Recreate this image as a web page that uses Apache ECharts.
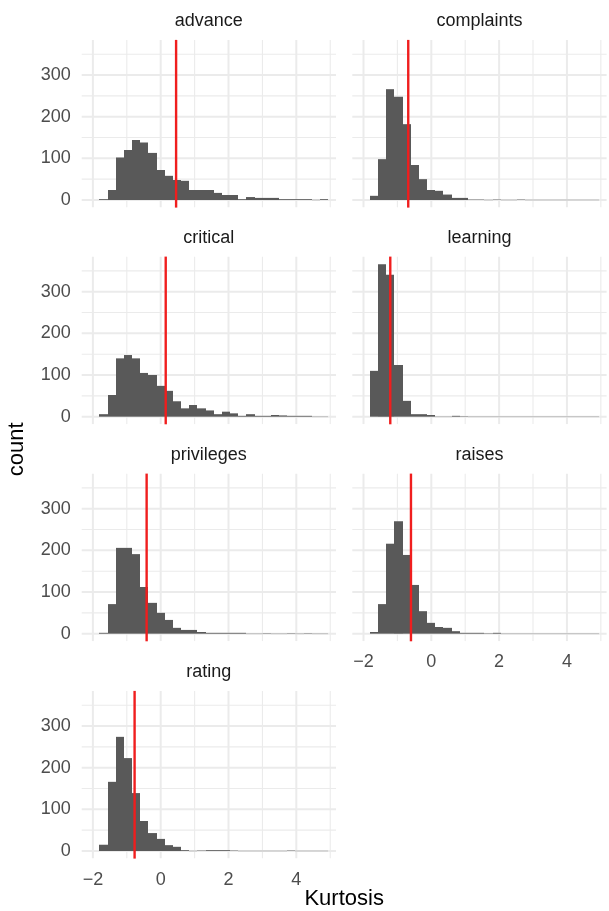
<!DOCTYPE html>
<html><head><meta charset="utf-8">
<script src="https://cdn.jsdelivr.net/npm/echarts@6/dist/echarts.min.js"></script>
<style>html,body{margin:0;padding:0;background:#fff}#c{width:609px;height:911px}</style>
</head><body><div id="c"></div>
<script>
// ---- data ----
const facetNames = ['advance', 'complaints', 'critical', 'learning', 'privileges', 'raises', 'rating'];
const binStart = -1.81;
const binWidth = 0.241;
const advanceCounts    = [2, 24, 102, 120, 144, 138, 113, 72, 58, 48, 46, 24, 24, 24, 17, 12, 12, 2, 7, 5, 5, 5, 2, 2, 2, 2, 0, 2];
const complaintsCounts = [10, 98, 266, 248, 182, 84, 50, 24, 22, 13, 5, 5, 1, 1, 0, 1, 0, 0, 1, 0, 0, 0, 0, 0, 0, 0, 0, 0];
const criticalCounts   = [6, 52, 140, 148, 140, 105, 100, 74, 62, 37, 20, 28, 20, 15, 6, 12, 8, 2, 6, 2, 2, 4, 3, 2, 2, 2, 0, 0];
const learningCounts   = [110, 366, 341, 124, 38, 6, 6, 4, 0, 0, 2, 1, 0, 0, 0, 0, 0, 0, 0, 0, 0, 0, 0, 0, 0, 0, 0, 0];
const privilegesCounts = [2, 71, 206, 206, 191, 112, 74, 50, 33, 14, 9, 9, 4, 2, 2, 2, 2, 2, 0, 0, 1, 0, 0, 1, 0, 1, 0, 0];
const raisesCounts     = [4, 71, 216, 270, 189, 117, 54, 26, 16, 14, 6, 2, 2, 2, 1, 2, 0, 0, 0, 0, 0, 0, 0, 0, 0, 0, 0, 0];
const ratingCounts     = [15, 166, 274, 223, 139, 72, 43, 29, 14, 10, 2, 0, 1, 2, 2, 2, 1, 0, 0, 0, 0, 0, 0, 1, 0, 0, 0, 0];
const kurtosisMeans    = [0.454, -0.68, 0.148, -1.21, -0.415, -0.60, -0.77];
const xTickLabels = [-2, 0, 2, 4];
const yTickLabels = [0, 100, 200, 300];
const xMinorBreaks = [-1, 1, 3, 5];
const yMinorBreaks = [50, 150, 250, 350];
const xAxisTitle = 'Kurtosis';
const yAxisTitle = 'count';

const allCounts = [advanceCounts, complaintsCounts, criticalCounts, learningCounts, privilegesCounts, raisesCounts, ratingCounts];

// ---- layout ----
const FONT = '"Liberation Sans", Arial, Helvetica, sans-serif';
const X_MIN = -2.33, X_MAX = 5.17, Y_MIN = -18.3, Y_MAX = 384.3;
const colLeft = [81.7, 352.3], panelW = 254.3;
const rowTop = [39.9, 256.6, 473.6, 690.9], panelH = 167.7;

const grids = [], xAxes = [], yAxes = [], series = [], graphics = [];

facetNames.forEach((name, i) => {
  const col = i % 2, row = Math.floor(i / 2);
  const showX = (name === 'raises' || name === 'rating');
  const showY = col === 0;
  grids.push({left: colLeft[col], top: rowTop[row], width: panelW, height: panelH, containLabel: false});
  xAxes.push({
    gridIndex: i, type: 'value', min: X_MIN, max: X_MAX,
    axisLine: {show: false}, axisTick: {show: false}, splitLine: {show: false},
    axisLabel: {show: showX, customValues: xTickLabels, color: '#4d4d4d', fontSize: 18, fontFamily: FONT, margin: 12,
      formatter: v => String(v).replace('-', '\u2212')}
  });
  yAxes.push({
    gridIndex: i, type: 'value', min: Y_MIN, max: Y_MAX,
    axisLine: {show: false}, axisTick: {show: false}, splitLine: {show: false},
    axisLabel: {show: showY, customValues: yTickLabels, color: '#4d4d4d', fontSize: 18, fontFamily: FONT, margin: 11}
  });
  // grid lines (minor first, then major)
  const gl = [];
  xMinorBreaks.forEach(v => gl.push([1, v]));
  yMinorBreaks.forEach(v => gl.push([3, v]));
  xTickLabels.forEach(v => gl.push([0, v]));
  yTickLabels.forEach(v => gl.push([2, v]));
  series.push({
    type: 'custom', xAxisIndex: i, yAxisIndex: i, silent: true, z: 1, clip: true,
    data: gl,
    renderItem: (params, api) => {
      const k = api.value(0), v = api.value(1);
      let p1, p2;
      if (k < 2) { p1 = api.coord([v, Y_MIN]); p2 = api.coord([v, Y_MAX]); }
      else { p1 = api.coord([X_MIN, v]); p2 = api.coord([X_MAX, v]); }
      return {type: 'line', shape: {x1: p1[0], y1: p1[1], x2: p2[0], y2: p2[1]},
        style: {stroke: '#ebebeb', lineWidth: (k % 2 === 0) ? 2 : 1.1}};
    }
  });
  // histogram bars
  const bars = allCounts[i].map((c, k) => [binStart + k * binWidth, binStart + (k + 1) * binWidth, c]);
  series.push({
    type: 'custom', xAxisIndex: i, yAxisIndex: i, silent: true, z: 2,
    encode: {x: [0, 1], y: 2},
    data: bars,
    renderItem: (params, api) => {
      const x0 = api.value(0), x1 = api.value(1), c = api.value(2);
      const a = api.coord([x0, 0]), b = api.coord([x1, c]);
      const left = Math.round(a[0]), right = Math.round(b[0]);
      if (c === 0) {
        return {type: 'line', shape: {x1: left, y1: a[1], x2: right, y2: a[1]},
          style: {stroke: '#b5b5b5', lineWidth: 0.8}};
      }
      return {type: 'rect', shape: {x: left, y: b[1], width: right - left, height: a[1] - b[1]},
        style: {fill: '#595959'}};
    }
  });
  // mean line
  series.push({
    type: 'custom', xAxisIndex: i, yAxisIndex: i, silent: true, z: 3,
    data: [[kurtosisMeans[i]]],
    renderItem: (params, api) => {
      const m = api.value(0);
      const p1 = api.coord([m, Y_MIN]), p2 = api.coord([m, Y_MAX]);
      return {type: 'line', shape: {x1: p1[0], y1: p1[1], x2: p2[0], y2: p2[1]},
        style: {stroke: '#f01e1e', lineWidth: 2.4}};
    }
  });
  // strip title
  graphics.push({
    type: 'text', x: colLeft[col] + panelW / 2, y: rowTop[row] - 19,
    style: {text: name, fill: '#1a1a1a', font: '18px ' + FONT, textAlign: 'center', textVerticalAlign: 'middle'}
  });
});

graphics.push({
  type: 'text', x: 17, y: (rowTop[0] + rowTop[3] + panelH) / 2, rotation: Math.PI / 2,
  style: {text: yAxisTitle, fill: '#000', font: '22px ' + FONT, textAlign: 'center', textVerticalAlign: 'middle'}
});
graphics.push({
  type: 'text', x: (colLeft[0] + colLeft[1] + panelW) / 2, y: 899,
  style: {text: xAxisTitle, fill: '#000', font: '22px ' + FONT, textAlign: 'center', textVerticalAlign: 'middle'}
});

const chart = echarts.init(document.getElementById('c'), null, {renderer: 'canvas'});
chart.setOption({
  animation: false,
  backgroundColor: '#fff',
  grid: grids, xAxis: xAxes, yAxis: yAxes, series: series,
  graphic: graphics
});
</script>
</body></html>
